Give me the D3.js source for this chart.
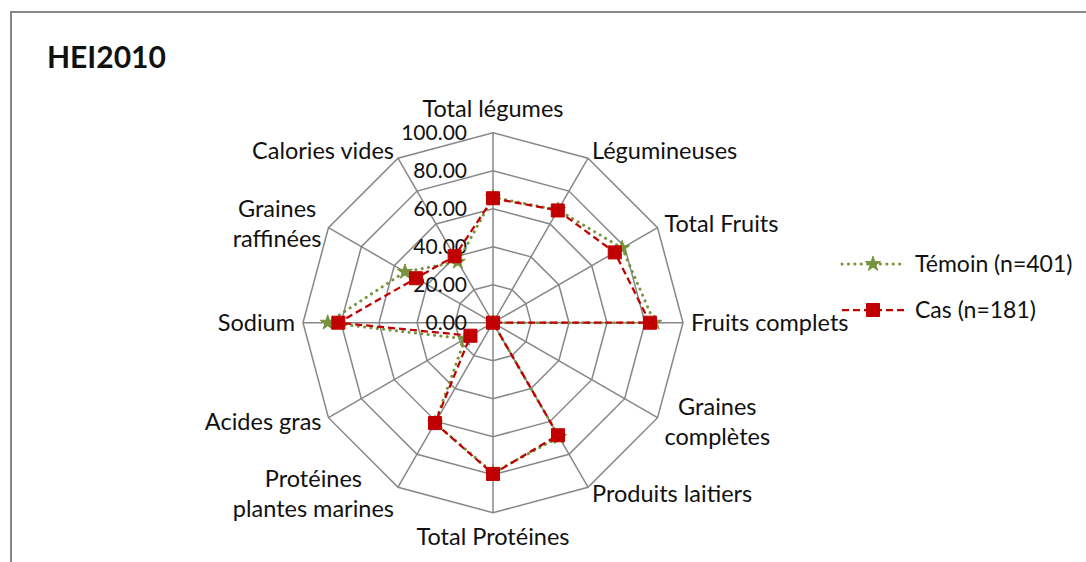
<!DOCTYPE html>
<html>
<head>
<meta charset="utf-8">
<script src="https://cdn.jsdelivr.net/npm/d3@7"></script>
<style>
  body { margin: 0; background: #fff; }
  svg text { font-family: Lato, "Open Sans", sans-serif; fill: #111; }
</style>
</head>
<body>
<svg id="chart" width="1086" height="562"></svg>
<script>
// categories, clockwise from top
var categories = [
    ["Total légumes"],
    ["Légumineuses"],
    ["Total Fruits"],
    ["Fruits complets"],
    ["Graines", "complètes"],
    ["Produits laitiers"],
    ["Total Protéines"],
    ["Protéines", "plantes marines"],
    ["Acides gras"],
    ["Sodium"],
    ["Graines", "raffinées"],
    ["Calories vides"]
];
var temoin = [66, 68.5, 78.5, 85, 0, 69.5, 79, 61, 17, 87, 53.5, 37];
var cas    = [65.5, 68.2, 74, 82.6, 0, 68.4, 79.6, 61, 13.7, 81.4, 46.8, 40.4];
var ticks = [0, 20, 40, 60, 80, 100];
var seriesNames = ["Témoin (n=401)", "Cas (n=181)"];

var svg = d3.select("#chart");

// outer frame
svg.append("rect")
    .attr("x", 11).attr("y", 12)
    .attr("width", 1100).attr("height", 600)
    .attr("fill", "none")
    .attr("stroke", "#878787")
    .attr("stroke-width", 2);

// TITLE
svg.append("text")
    .attr("x", 47).attr("y", 68)
    .attr("font-size", 30)
    .attr("font-weight", "bold")
    .text("HEI2010");

var cx = 493, cy = 322.7, R = 190;
var n = categories.length;
var r = d3.scaleLinear().domain([0, 100]).range([0, R]);
var angle = d3.scaleLinear().domain([0, n]).range([0, 2 * Math.PI]);

function pt(i, v) {
    var a = angle(i);
    return [cx + r(v) * Math.sin(a), cy - r(v) * Math.cos(a)];
}

var grid = svg.append("g");

// rings
ticks.slice(1).forEach(function (t) {
    var pts = d3.range(n).map(function (i) { return pt(i, t); });
    grid.append("path")
        .attr("d", d3.line()(pts) + "Z")
        .attr("fill", "none")
        .attr("stroke", "#878787")
        .attr("stroke-width", 1.5);
});

// spokes
d3.range(n).forEach(function (i) {
    var p = pt(i, 100);
    grid.append("line")
        .attr("x1", cx).attr("y1", cy)
        .attr("x2", p[0]).attr("y2", p[1])
        .attr("stroke", "#878787")
        .attr("stroke-width", 1.5);
});

// tick labels on the top axis
ticks.forEach(function (t) {
    svg.append("text")
        .attr("x", cx - 26)
        .attr("y", cy - r(t))
        .attr("dy", "0.35em")
        .attr("text-anchor", "end")
        .attr("font-size", 21)
        .text(t.toFixed(2));
});

// category labels
var lineH = 30;
categories.forEach(function (lines, i) {
    var a = angle(i);
    var s = Math.sin(a), c = Math.cos(a);
    var px = cx + (R + 8) * s;
    var py = cy - (R + 8) * c;
    if (Math.abs(c) > 0.95) py -= c * 16;
    var anchor = s > 0.01 ? "start" : (s < -0.01 ? "end" : "middle");
    var x = px;
    if (lines.length > 1) {
        // two line labels are centred on their own block
        anchor = "middle";
    }
    var t = svg.append("text")
        .attr("font-size", 23.5)
        .attr("text-anchor", anchor);
    lines.forEach(function (l, k) {
        t.append("tspan")
            .attr("x", x)
            .attr("y", py + (k - (lines.length - 1) / 2) * lineH)
            .attr("dy", "0.35em")
            .text(l);
    });
    if (lines.length > 1) {
        var w = t.node().getBBox().width;
        var shift = s > 0 ? w / 2 : -w / 2;
        t.selectAll("tspan").attr("x", x + shift);
    }
});

// SERIES
var styles = [
    { color: "#77933C", dash: "0.1,6.3", cap: "round", width: 3, marker: d3.symbolStar, msize: 70 },
    { color: "#C00000", dash: "7,4", cap: "butt", width: 2.25, marker: d3.symbolSquare, msize: 170 }
];
[temoin, cas].forEach(function (vals, k) {
    var st = styles[k];
    var pts = vals.map(function (v, i) { return pt(i, v); });
    svg.append("path")
        .attr("d", d3.line()(pts) + "Z")
        .attr("fill", "none")
        .attr("stroke", st.color)
        .attr("stroke-width", st.width)
        .attr("stroke-dasharray", st.dash)
        .attr("stroke-linecap", st.cap);
    svg.selectAll(null).data(pts).enter().append("path")
        .attr("transform", function (p) { return "translate(" + p[0] + "," + p[1] + ")"; })
        .attr("d", d3.symbol().type(st.marker).size(st.msize))
        .attr("fill", st.color)
        .attr("stroke", st.color)
        .attr("stroke-width", 1);
});

// LEGEND
var legY = [264, 310];
seriesNames.forEach(function (name, k) {
    var st = styles[k];
    svg.append("line")
        .attr("x1", 842).attr("x2", 906)
        .attr("y1", legY[k]).attr("y2", legY[k])
        .attr("stroke", st.color)
        .attr("stroke-width", st.width)
        .attr("stroke-dasharray", st.dash)
        .attr("stroke-linecap", st.cap);
    svg.append("path")
        .attr("transform", "translate(873," + legY[k] + ")")
        .attr("d", d3.symbol().type(st.marker).size(st.msize))
        .attr("fill", st.color)
        .attr("stroke", st.color)
        .attr("stroke-width", 1);
    svg.append("text")
        .attr("x", 915).attr("y", legY[k])
        .attr("dy", "0.35em")
        .attr("font-size", 23)
        .text(name);
});
</script>
</body>
</html>
